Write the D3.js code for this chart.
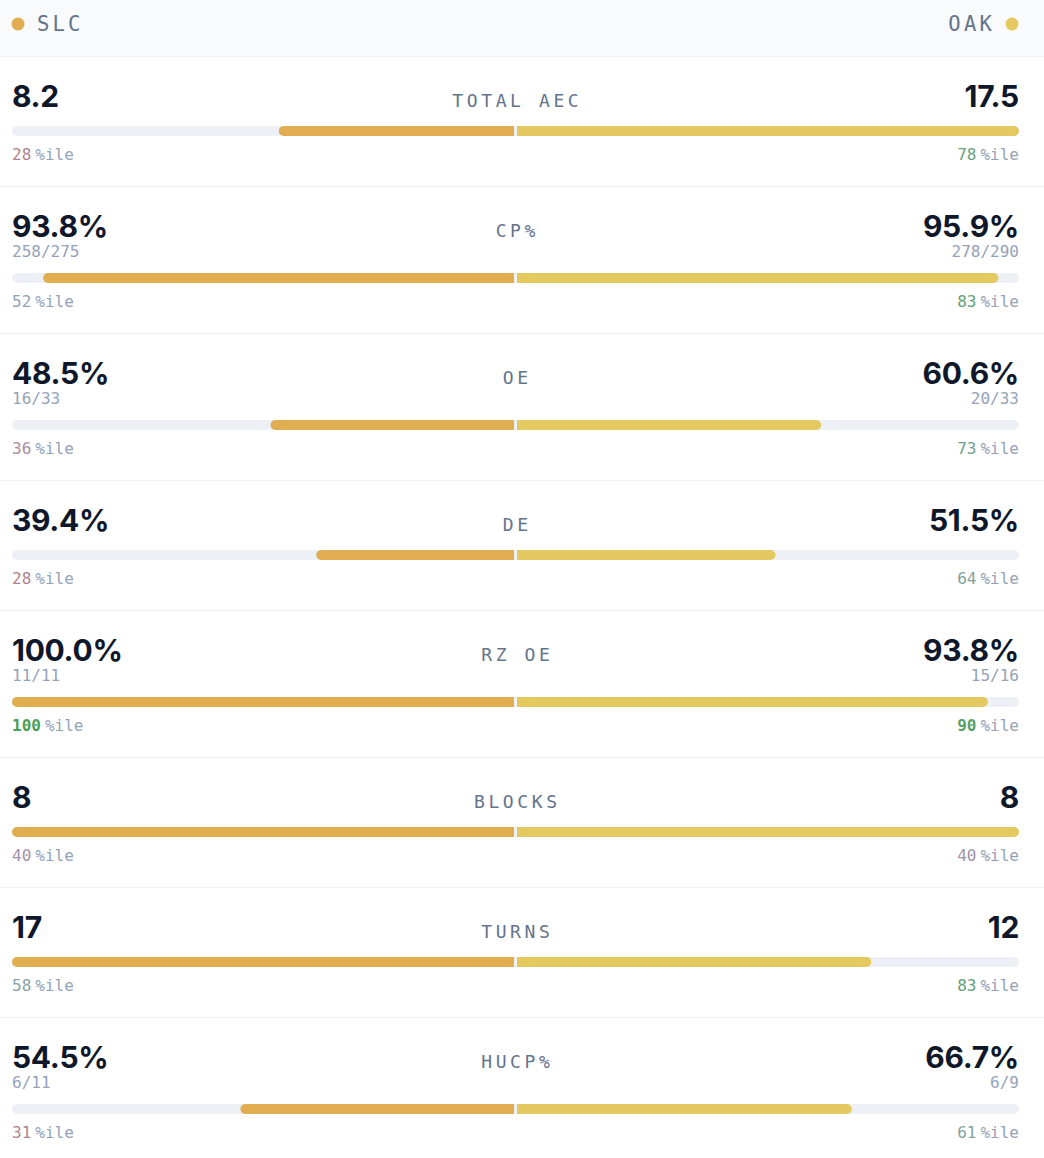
<!DOCTYPE html>
<html>
<head>
<meta charset="utf-8">
<script src="https://cdn.jsdelivr.net/npm/d3@7"></script>
<style>
  body { margin: 0; background: #ffffff; }
  .mono { font-family: "DejaVu Sans Mono", monospace; }
  .value { font-family: Inter, "Noto Sans", sans-serif; font-weight: 700; }
</style>
</head>
<body>
<div id="chart"></div>
<script>
// team names
const teams = ["SLC", "OAK"];

// metric rows
const metrics = ["TOTAL AEC", "CP%", "OE", "DE", "RZ OE", "BLOCKS", "TURNS", "HUCP%"];
const kinds = ["num", "pct", "pct", "pct", "pct", "int", "int", "pct"];

const slcValues = [8.2, 93.8, 48.5, 39.4, 100.0, 8, 17, 54.5];
const oakValues = [17.5, 95.9, 60.6, 51.5, 93.8, 8, 12, 66.7];

const slcFractions = [null, "258/275", "16/33", null, "11/11", null, null, "6/11"];
const oakFractions = [null, "278/290", "20/33", null, "15/16", null, null, "6/9"];

const slcPctile = [28, 52, 36, 28, 100, 40, 58, 31];
const oakPctile = [78, 83, 73, 64, 90, 40, 83, 61];

const teamColors = ["#e0ae50", "#e3c95f"];

/*
DIMENSIONS
*/
const width = 1044;
const height = 1158;
const margin = {left: 12, right: 25};
const headerH = 57;
const center = (margin.left + width - margin.right) / 2;
const gap = 1.5;
const half = center - gap - margin.left;

const svg = d3.select("#chart")
    .append("svg")
    .attr("width", width)
    .attr("height", height);

/*
HEADER
*/
svg.append("rect")
    .attr("x", 0).attr("y", 0)
    .attr("width", width).attr("height", headerH)
    .attr("fill", "#f8fafc");
svg.append("line")
    .attr("x1", 0).attr("x2", width)
    .attr("y1", headerH - 0.5).attr("y2", headerH - 0.5)
    .attr("stroke", "#eef1f5");

svg.append("circle")
    .attr("cx", 18).attr("cy", 24).attr("r", 6.5)
    .attr("fill", teamColors[0]);
svg.append("text")
    .attr("class", "mono")
    .attr("x", 37).attr("y", 31)
    .attr("font-size", 20.5)
    .attr("letter-spacing", 3.2)
    .attr("fill", "#64748b")
    .text(teams[0]);

svg.append("circle")
    .attr("cx", width - 32).attr("cy", 24).attr("r", 6.5)
    .attr("fill", teamColors[1]);
svg.append("text")
    .attr("class", "mono")
    .attr("x", width - 49).attr("y", 31)
    .attr("text-anchor", "end")
    .attr("font-size", 20.5)
    .attr("letter-spacing", 3.2)
    .attr("fill", "#64748b")
    .text(teams[1]);

/*
SCALES + HELPERS
*/
const pctColor = d3.scaleLinear()
    .domain([0, 50, 100])
    .range(["#e0505a", "#94a3b8", "#4a9e55"]);

function formatValue(v, kind) {
    if (kind === "pct") return d3.format(".1f")(v) + "%";
    if (kind === "num") return d3.format(".1f")(v);
    return d3.format("d")(v);
}

// bar with a rounded outer end, square inner end
function halfBar(x0, w, y, h, dir) {
    const r = Math.min(h / 2, w);
    const p = d3.path();
    const xe = x0 + dir * w;
    p.moveTo(x0, y);
    p.lineTo(xe - dir * r, y);
    p.arcTo(xe, y, xe, y + r, r);
    p.lineTo(xe, y + h - r);
    p.arcTo(xe, y + h, xe - dir * r, y + h, r);
    p.lineTo(x0, y + h);
    p.closePath();
    return p.toString();
}

/*
ROWS
*/
let rowTop = headerH;
metrics.forEach(function(m, i) {
    const hasFrac = slcFractions[i] !== null || oakFractions[i] !== null;
    const rowH = hasFrac ? 147 : 130;
    const barY = rowTop + (hasFrac ? 91 : 74);
    const pctY = rowTop + (hasFrac ? 114 : 97);

    const g = svg.append("g");

    const domainMax = kinds[i] === "pct" ? 100 : Math.max(slcValues[i], oakValues[i]);
    const xScale = d3.scaleLinear().domain([0, domainMax]).range([0, half]);

    // title
    g.append("text")
        .attr("class", "mono")
        .attr("x", center + 1.8).attr("y", rowTop + 49.5)
        .attr("text-anchor", "middle")
        .attr("font-size", 18)
        .attr("letter-spacing", 3.6)
        .attr("fill", "#64748b")
        .text(m);

    // values
    g.append("text")
        .attr("class", "value")
        .attr("x", margin.left).attr("y", rowTop + 49.5)
        .attr("font-size", 30)
        .attr("letter-spacing", -0.3)
        .attr("fill", "#0f172a")
        .text(formatValue(slcValues[i], kinds[i]));
    g.append("text")
        .attr("class", "value")
        .attr("x", width - margin.right).attr("y", rowTop + 49.5)
        .attr("text-anchor", "end")
        .attr("font-size", 30)
        .attr("letter-spacing", -0.3)
        .attr("fill", "#0f172a")
        .text(formatValue(oakValues[i], kinds[i]));

    // fractions
    if (slcFractions[i]) {
        g.append("text")
            .attr("class", "mono")
            .attr("x", margin.left).attr("y", rowTop + 70)
            .attr("font-size", 16)
            .attr("fill", "#94a3b8")
            .text(slcFractions[i]);
    }
    if (oakFractions[i]) {
        g.append("text")
            .attr("class", "mono")
            .attr("x", width - margin.right).attr("y", rowTop + 70)
            .attr("text-anchor", "end")
            .attr("font-size", 16)
            .attr("fill", "#94a3b8")
            .text(oakFractions[i]);
    }

    // track
    g.append("rect")
        .attr("x", margin.left).attr("y", barY - 5)
        .attr("width", width - margin.right - margin.left).attr("height", 10)
        .attr("rx", 5)
        .attr("fill", "#edf0f5");

    // bars
    g.append("path")
        .attr("d", halfBar(center - gap, xScale(slcValues[i]), barY - 5, 10, -1))
        .attr("fill", teamColors[0]);
    g.append("path")
        .attr("d", halfBar(center + gap, xScale(oakValues[i]), barY - 5, 10, 1))
        .attr("fill", teamColors[1]);

    // percentiles
    [[slcPctile[i], margin.left, "start"], [oakPctile[i], width - margin.right, "end"]].forEach(function(d) {
        const t = g.append("text")
            .attr("class", "mono")
            .attr("x", d[1]).attr("y", pctY + 5.8)
            .attr("text-anchor", d[2])
            .attr("font-size", 16);
        t.append("tspan")
            .attr("fill", pctColor(d[0]))
            .attr("font-weight", d[0] >= 90 ? 700 : 400)
            .text(d[0]);
        t.append("tspan")
            .attr("dx", 4)
            .attr("fill", "#94a3b8")
            .text("%ile");
    });

    // separator
    rowTop += rowH;
    svg.append("line")
        .attr("x1", 0).attr("x2", width)
        .attr("y1", rowTop - 0.5).attr("y2", rowTop - 0.5)
        .attr("stroke", "#eef1f5");
});
</script>
</body>
</html>
